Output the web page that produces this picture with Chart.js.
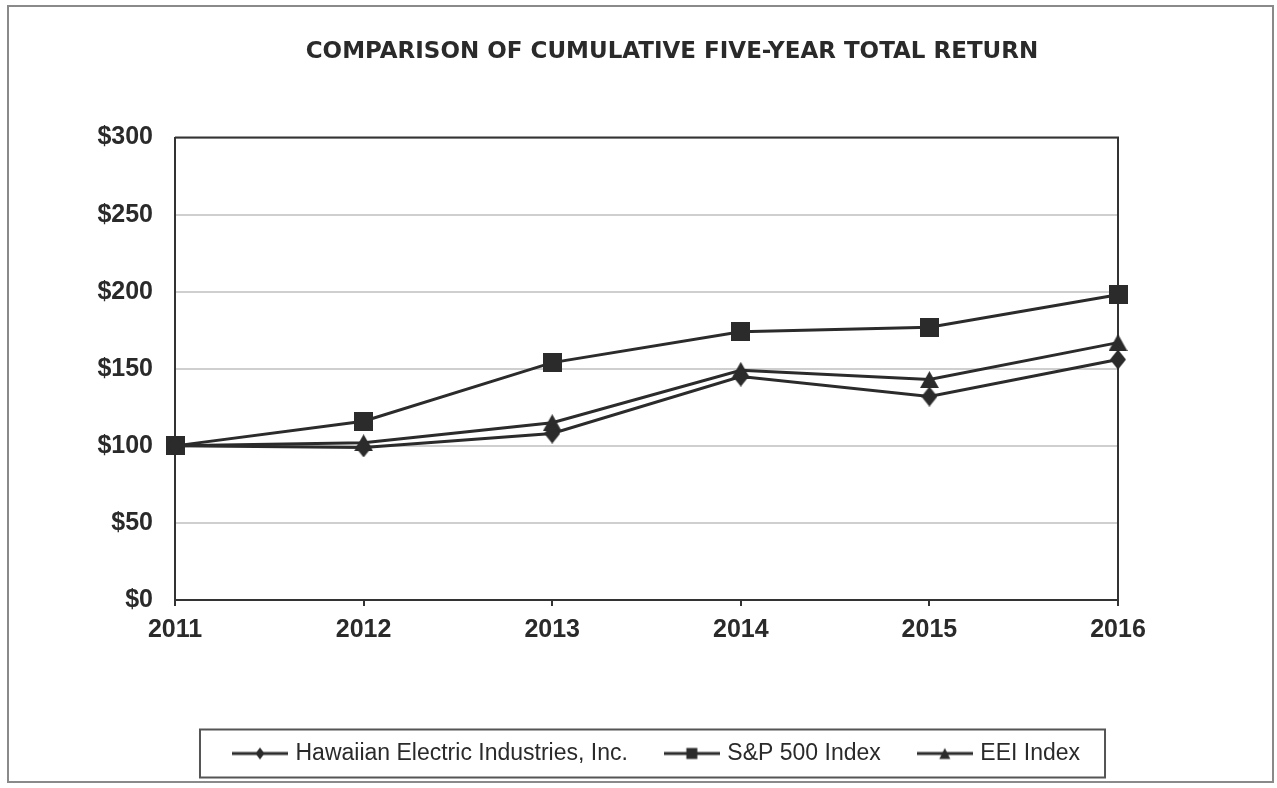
<!DOCTYPE html>
<html>
<head>
<meta charset="utf-8">
<script src="https://cdn.jsdelivr.net/npm/chart.js@4.4.0/dist/chart.umd.min.js"></script>
<style>
  html, body { margin: 0; padding: 0; background: #fff; }
  #wrap { width: 1277px; height: 788px; }
</style>
</head>
<body>
<div id="wrap"><canvas id="total_return_chart" width="1277" height="788"></canvas></div>
<script>
"use strict"

// values
var years = ['2011', '2012', '2013', '2014', '2015', '2016'];
var hei_values = [100, 99, 108, 145, 132, 156];
var sp500_values = [100, 116, 154, 174, 177, 198];
var eei_values = [100, 102, 115, 149, 143, 167];
var series_names = ['Hawaiian Electric Industries, Inc.', 'S&P 500 Index', 'EEI Index'];
var y_min = 0, y_max = 300, y_step = 50;

var ink = '#2b2b2b';
var font_family = 'Arial, "Liberation Sans", sans-serif';

// marker shapes as little canvases
function makeMarker(shape, w, h) {
    var c = document.createElement('canvas');
    c.width = w; c.height = h;
    var g = c.getContext('2d');
    g.fillStyle = ink;
    drawShape(g, shape, 0, 0, w, h);
    return c;
}

function drawShape(g, shape, x, y, w, h) {
    g.beginPath();
    if (shape === 'square') {
        g.rect(x, y, w, h);
    } else if (shape === 'diamond') {
        g.moveTo(x + w / 2, y); g.lineTo(x + w, y + h / 2);
        g.lineTo(x + w / 2, y + h); g.lineTo(x, y + h / 2);
        g.closePath();
    } else {
        g.moveTo(x + w / 2, y); g.lineTo(x + w, y + h); g.lineTo(x, y + h);
        g.closePath();
    }
    g.fill();
}

function makeLegendIcon(shape, mw, mh) {
    var c = document.createElement('canvas');
    c.width = 56; c.height = 14;
    var g = c.getContext('2d');
    g.strokeStyle = ink;
    g.lineWidth = 3;
    g.beginPath(); g.moveTo(0, 7); g.lineTo(56, 7); g.stroke();
    g.fillStyle = ink;
    drawShape(g, shape, 28 - mw / 2, 7 - mh / 2, mw, mh);
    return c;
}

var markers = [makeMarker('diamond', 16, 20), makeMarker('square', 19, 19), makeMarker('triangle', 19, 17)];
var legend_icons = [makeLegendIcon('diamond', 9, 12), makeLegendIcon('square', 11, 11), makeLegendIcon('triangle', 11, 11)];

var frames_plugin = {
    id: 'frames',
    beforeDraw: function(chart) {
        var ctx = chart.ctx;
        ctx.save();
        ctx.fillStyle = '#fff';
        ctx.fillRect(0, 0, chart.width, chart.height);
        ctx.strokeStyle = '#8a8a8a';
        ctx.lineWidth = 2;
        ctx.strokeRect(8, 6, 1265, 776);
        ctx.restore();
    },
    afterLayout: function(chart) {
        // title and legend are not centred on the plot in the original
        var t = chart.titleBlock;
        t.left = 67; t.right = 1277; t.width = t.right - t.left;
        var l = chart.legend;
        l.left = 39; l.right = 1277; l.width = l.right - l.left;
    },
    beforeDatasetsDraw: function(chart) {
        var a = chart.chartArea, ctx = chart.ctx;
        ctx.save();
        ctx.strokeStyle = '#333';
        ctx.lineWidth = 2;
        ctx.beginPath();
        ctx.moveTo(a.left, a.top); ctx.lineTo(a.right, a.top); ctx.lineTo(a.right, a.bottom);
        ctx.stroke();
        ctx.restore();
    },
    afterDraw: function(chart) {
        var hb = chart.legend.legendHitBoxes;
        if (!hb || !hb.length) return;
        var first = hb[0], last = hb[hb.length - 1];
        var cy = first.top + first.height / 2;
        var x0 = first.left - 36, x1 = last.left + last.width + 25;
        var ctx = chart.ctx;
        ctx.save();
        ctx.strokeStyle = '#555';
        ctx.lineWidth = 2;
        ctx.strokeRect(x0, cy - 24, x1 - x0, 48);
        ctx.restore();
    }
};

var total_return_config = {
    type: 'line',
    data: {
        labels: years,
        datasets: [{
            label: series_names[0],
            data: hei_values,
            borderColor: ink,
            borderWidth: 3,
            pointStyle: markers[0],
            pointRadius: 8
        }, {
            label: series_names[1],
            data: sp500_values,
            borderColor: ink,
            borderWidth: 3,
            pointStyle: markers[1],
            pointRadius: 8
        }, {
            label: series_names[2],
            data: eei_values,
            borderColor: ink,
            borderWidth: 3,
            pointStyle: markers[2],
            pointRadius: 8
        }]
    },
    options: {
        responsive: false,
        animation: false,
        devicePixelRatio: 1,
        layout: {
            padding: { left: 0, right: 159, top: 0, bottom: 13 }
        },
        scales: {
            x: {
                offset: false,
                afterFit: function(scale) { scale.height = 102; },
                grid: {
                    drawOnChartArea: false,
                    drawTicks: true,
                    tickLength: 6,
                    color: '#333',
                    lineWidth: 2
                },
                border: { color: '#333', width: 2 },
                ticks: {
                    padding: 9,
                    color: '#2a2a2a',
                    font: { family: font_family, size: 25, weight: 'bold' },
                    maxRotation: 0
                }
            },
            y: {
                min: y_min,
                max: y_max,
                afterFit: function(scale) { scale.width = 175; },
                grid: {
                    drawTicks: false,
                    color: '#cfcfcf',
                    lineWidth: 2
                },
                border: { color: '#333', width: 2 },
                ticks: {
                    stepSize: y_step,
                    padding: 22,
                    color: '#2a2a2a',
                    font: { family: font_family, size: 25, weight: 'bold' },
                    callback: function(value) { return '$' + value; }
                }
            }
        },
        plugins: {
            title: {
                display: true,
                text: 'COMPARISON OF CUMULATIVE FIVE-YEAR TOTAL RETURN',
                color: '#2a2a2a',
                font: { family: '"DejaVu Sans", Verdana, sans-serif', size: 23, weight: 'bold' },
                padding: { top: 38, bottom: 72 }
            },
            legend: {
                position: 'bottom',
                labels: {
                    usePointStyle: true,
                    pointStyleWidth: 48,
                    padding: 40,
                    color: '#2a2a2a',
                    font: { family: font_family, size: 23 },
                    generateLabels: function(chart) {
                        var items = Chart.defaults.plugins.legend.labels.generateLabels(chart);
                        items.forEach(function(item, i) {
                            item.pointStyle = legend_icons[i];
                            item.rotation = 0;
                        });
                        return items;
                    }
                }
            },
            tooltip: { enabled: false }
        }
    },
    plugins: [frames_plugin]
};

var total_return_ctx = document.getElementById('total_return_chart').getContext('2d');
var total_return_chart = new Chart(total_return_ctx, total_return_config);
</script>
</body>
</html>
